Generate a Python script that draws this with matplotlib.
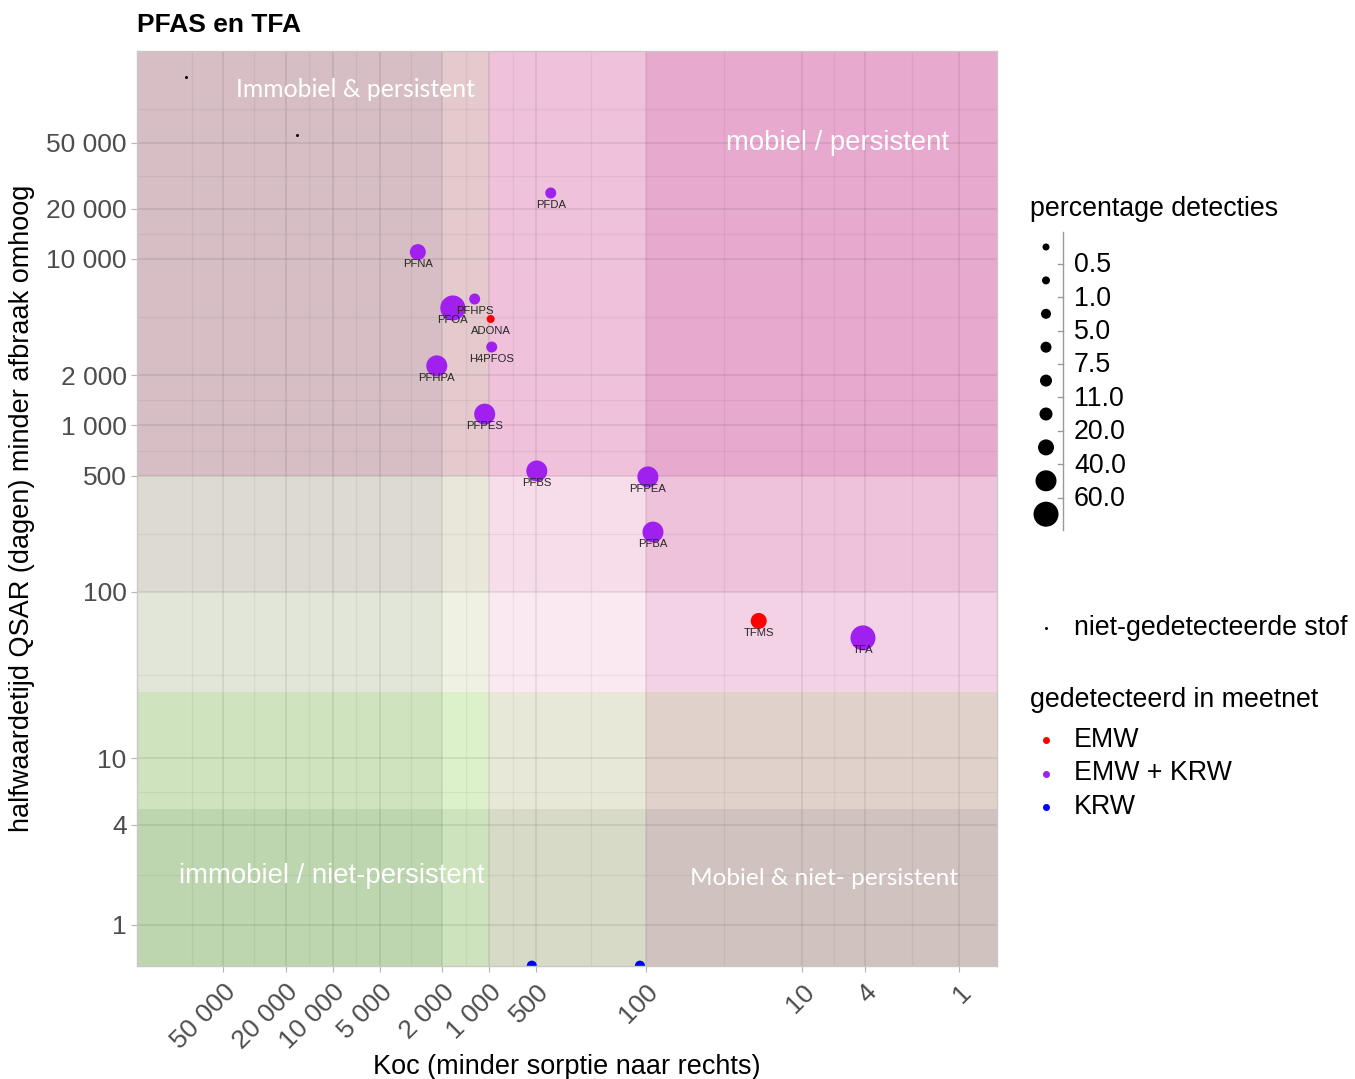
import numpy as np
import matplotlib

matplotlib.use("Agg")
import matplotlib.pyplot as plt
from matplotlib import font_manager
from matplotlib.patches import Rectangle

# --- data -------------------------------------------------------------------
stof = ["PFDA", "PFNA", "PFOA", "PFHPS", "ADONA", "H4PFOS", "PFHPA", "PFPES",
        "PFBS", "PFPEA", "PFBA", "TFMS", "TFA", "", ""]
koc = [405, 2860, 1710, 1240, 980, 965, 2165, 1070, 497, 97, 90, 19, 4.1, 535, 109]
dt50 = [24900, 11000, 5080, 5750, 4360, 2960, 2280, 1170, 533, 491, 229, 67, 53, 0.57, 0.57]
pct_detect = [6.5, 30, 70, 6, 0.8, 6, 50, 42, 45, 42, 50, 25, 80, 2, 2]
meetnet = ["EMW + KRW", "EMW + KRW", "EMW + KRW", "EMW + KRW", "EMW", "EMW + KRW",
           "EMW + KRW", "EMW + KRW", "EMW + KRW", "EMW + KRW", "EMW + KRW", "EMW",
           "EMW + KRW", "KRW", "KRW"]

# substances that were never detected
koc_nd = [86900, 17000]
dt50_nd = [124000, 55600]

x_breaks = [50000, 20000, 10000, 5000, 2000, 1000, 500, 100, 10, 4, 1]
y_breaks = [1, 4, 10, 100, 500, 1000, 2000, 10000, 20000, 50000]

size_edges = [0.5, 1, 5, 7.5, 11, 20, 40, 60]
size_labels = ["0.5", "1.0", "5.0", "7.5", "11.0", "20.0", "40.0", "60.0"]
size_px = [7, 8, 10, 11, 12, 13, 16, 21, 25]

meetnet_levels = ["EMW", "EMW + KRW", "KRW"]
meetnet_colors = {"EMW": "#ff0000", "EMW + KRW": "#a020f0", "KRW": "#0000ff"}

# classification zones: Koc edges (left->right), DT50 edges (top->bottom)
zone_koc = [1e7, 2000, 1000, 100, 1e-3]
zone_dt50 = [1e7, 500, 100, 25, 5, 1e-3]
zone_colors = [
    ["#d6bec4", "#e4c9cd", "#efc1db", "#e8a9cf"],
    ["#dddbd1", "#e8e7da", "#f7dcea", "#efc2dc"],
    ["#e2e6d9", "#eff2e2", "#fbe9f2", "#f3d2e6"],
    ["#cfe3bf", "#dcf0c9", "#e8e8d8", "#e0d2cb"],
    ["#bed6b0", "#cde3bd", "#d8dac8", "#d0c3bf"],
]

XLIM = (178000, 0.571)
YLIM = (0.567, 177500)

# --- fonts ------------------------------------------------------------------
installed = {f.name for f in font_manager.fontManager.ttflist}
plt.rcParams["font.family"] = ["Liberation Sans", "DejaVu Sans"]
NARROW = "Liberation Sans Narrow" if "Liberation Sans Narrow" in installed else "Liberation Sans"
SOFT = "Lato" if "Lato" in installed else "DejaVu Sans"

W, H, DPI = 1355, 1079, 100
PX = 72 / DPI  # points per pixel
LEG_FS = 19.3


def fmt_num(v):
    return f"{v:,.0f}".replace(",", " ")


def px_to_s(d):
    return (d * PX) ** 2


def size_of(p):
    return size_px[int(np.digitize(p, size_edges))]


fig = plt.figure(figsize=(W / DPI, H / DPI), dpi=DPI)
ax = fig.add_axes([137 / W, 1 - 966 / H, 860 / W, 915 / H])
ax.set_xscale("log")
ax.set_yscale("log")
ax.set_xlim(*XLIM)
ax.set_ylim(*YLIM)

# zones
for i in range(len(zone_dt50) - 1):
    for j in range(len(zone_koc) - 1):
        x0, x1 = zone_koc[j], zone_koc[j + 1]
        y0, y1 = zone_dt50[i + 1], zone_dt50[i]
        ax.add_patch(Rectangle((x1, y0), x0 - x1, y1 - y0, facecolor=zone_colors[i][j],
                               edgecolor="none", zorder=0))

# grid: majors at breaks, minors halfway in log space (extended one half-step)
def minor_breaks(breaks):
    lb = np.log10(sorted(breaks))
    mids = (lb[:-1] + lb[1:]) / 2
    ext = [lb[0] - (lb[1] - lb[0]) / 2, lb[-1] + (lb[-1] - lb[-2]) / 2]
    return 10 ** np.concatenate([mids, ext])


for v in minor_breaks(x_breaks):
    ax.axvline(v, color="black", alpha=0.05, lw=0.9, zorder=1)
for v in minor_breaks(y_breaks):
    ax.axhline(v, color="black", alpha=0.05, lw=0.9, zorder=1)
for v in x_breaks:
    ax.axvline(v, color="black", alpha=0.08, lw=1.3, zorder=1)
for v in y_breaks:
    ax.axhline(v, color="black", alpha=0.08, lw=1.3, zorder=1)

# zone names
ax.text(0.254, 0.958, "Immobiel & persistent", transform=ax.transAxes, family=SOFT,
        fontsize=17.8, color="white", ha="center", va="center", zorder=2)
ax.text(0.814, 0.899, "mobiel / persistent", transform=ax.transAxes,
        fontsize=19.8, color="white", ha="center", va="center", zorder=2)
ax.text(0.227, 0.098, "immobiel / niet-persistent", transform=ax.transAxes,
        fontsize=19.8, color="white", ha="center", va="center", zorder=2)
ax.text(0.799, 0.096, "Mobiel & niet- persistent", transform=ax.transAxes, family=SOFT,
        fontsize=17.6, color="white", ha="center", va="center", zorder=2)

# points
ax.scatter(koc_nd, dt50_nd, s=px_to_s(3), color="black", lw=0, zorder=3)
ax.scatter(koc, dt50, s=[px_to_s(size_of(p)) for p in pct_detect],
           c=[meetnet_colors[m] for m in meetnet], lw=0, zorder=3)
for name, x, y in zip(stof, koc, dt50):
    if name:
        ax.annotate(name, (x, y), xytext=(0, -12 * PX), textcoords="offset points",
                    ha="center", va="center", fontsize=8.1, color="#262626", zorder=4)

# axes styling
ax.set_xticks(x_breaks)
ax.set_xticklabels([fmt_num(v) for v in x_breaks], rotation=45, ha="right", va="top",
                   rotation_mode="anchor")
ax.set_yticks(y_breaks)
ax.set_yticklabels([fmt_num(v) for v in y_breaks])
ax.minorticks_off()
ax.tick_params(axis="both", colors="#b3b3b3", length=4, width=0.8, labelcolor="#4d4d4d",
               labelsize=19)
ax.tick_params(axis="x", pad=6)
for sp in ax.spines.values():
    sp.set_color("#c8c8c8")
    sp.set_linewidth(1.0)
    sp.set_zorder(5)

ax.set_xlabel("Koc (minder sorptie naar rechts)", family=NARROW, fontsize=19.5, labelpad=0)
ax.set_ylabel("halfwaardetijd QSAR (dagen) minder afbraak omhoog", family=NARROW,
              fontsize=19.5, labelpad=8)
fig.text(137 / W, 1 - 25 / H, "PFAS en TFA", fontsize=19, fontweight="bold",
         ha="left", va="center")

# legends, drawn on a pixel-space overlay
lax = fig.add_axes([0, 0, 1, 1])
lax.set_xlim(0, W)
lax.set_ylim(H, 0)
lax.axis("off")

lax.text(1030, 209, "percentage detecties", fontsize=LEG_FS, ha="left", va="center")
key_y = 247 + 33.4 * np.arange(len(size_px))
lax.scatter([1046] * len(size_px), key_y, s=[px_to_s(d) for d in size_px], color="black", lw=0)
lax.plot([1063, 1063], [232, 530], color="#999999", lw=1)
for k, lab in enumerate(size_labels):
    yy = (key_y[k] + key_y[k + 1]) / 2
    lax.plot([1058, 1063], [yy, yy], color="#999999", lw=1)
    lax.text(1074, yy + 1.5, lab, fontsize=LEG_FS, ha="left", va="center")

lax.scatter([1046], [628], s=px_to_s(3), color="black", lw=0)
lax.text(1074, 628, "niet-gedetecteerde stof", fontsize=LEG_FS, ha="left", va="center")

lax.text(1030, 700, "gedetecteerd in meetnet", fontsize=LEG_FS, ha="left", va="center")
for k, lev in enumerate(meetnet_levels):
    yy = 740 + 33.5 * k
    lax.scatter([1046], [yy], s=px_to_s(7), color=meetnet_colors[lev], lw=0)
    lax.text(1074, yy, lev, fontsize=LEG_FS, ha="left", va="center")

fig.savefig("out.png", dpi=DPI)
